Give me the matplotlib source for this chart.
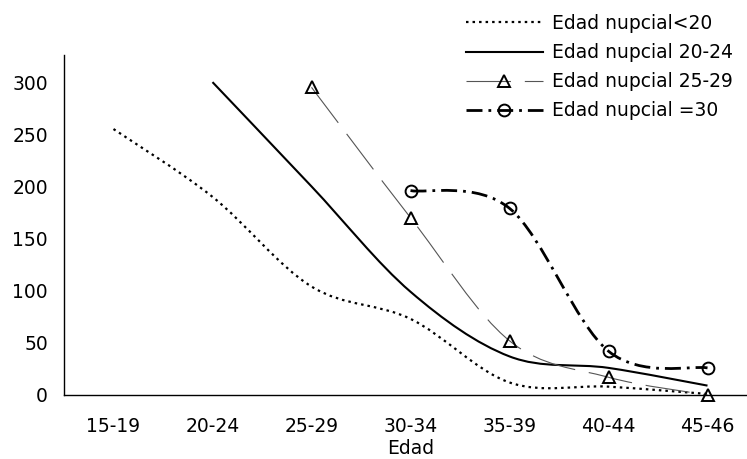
import numpy as np
import matplotlib
matplotlib.use('Agg')
import matplotlib.pyplot as plt
from matplotlib.path import Path
from matplotlib.patches import PathPatch
from matplotlib.lines import Line2D

plt.rcParams['lines.scale_dashes'] = False
plt.rcParams['font.family'] = ['DejaVu Sans']

# datos
edades = ['15-19', '20-24', '25-29', '30-34', '35-39', '40-44', '45-46']
nup_menor20 = [255, 190, 104, 73, 12, 8, 1]
nup_20_24 = [None, 300, 200, 99, 37, 26, 9]
nup_25_29 = [None, None, 295, 170, 52, 17, 0]
nup_30 = [None, None, None, 196, 179, 42, 26]
etiquetas = ['Edad nupcial<20', 'Edad nupcial 20-24',
             'Edad nupcial 25-29', 'Edad nupcial =30']


def suave(valores):
    # curva suavizada tipo Excel (Catmull-Rom como Bezier cubica)
    p = np.array([(i, v) for i, v in enumerate(valores) if v is not None], float)
    n = len(p)
    verts = [p[0]]
    codes = [Path.MOVETO]
    for i in range(n - 1):
        p0 = p[max(i - 1, 0)]
        p3 = p[min(i + 2, n - 1)]
        verts += [p[i] + (p[i + 1] - p0) / 6, p[i + 1] - (p3 - p[i]) / 6, p[i + 1]]
        codes += [Path.CURVE4] * 3
    return Path(verts, codes)


estilos = [
    dict(color='black', lw=1.6, ls=(0, (1.8, 2.9))),
    dict(color='black', lw=1.5, ls='-'),
    dict(color='#555555', lw=0.8, ls=(0, (32, 10))),
    dict(color='black', lw=2.0, ls=(0, (11.5, 4.3, 2, 4.3))),
]
marcas = [None, None,
          dict(marker='^', ms=9, mfc='none', mec='black', mew=1.4),
          dict(marker='o', ms=8.5, mfc='none', mec='black', mew=1.4)]

fig = plt.figure(figsize=(7.47, 4.59), dpi=100)
ax = fig.add_axes([64 / 747, 64 / 459, 693 / 747, 340 / 459])

series = [nup_menor20, nup_20_24, nup_25_29, nup_30]
handles = []
for vals, est, mk in zip(series, estilos, marcas):
    ax.add_patch(PathPatch(suave(vals), fill=False, edgecolor=est['color'],
                           lw=est['lw'], linestyle=est['ls'],
                           capstyle='butt', clip_on=False))
    if mk is not None:
        xs = [i for i, v in enumerate(vals) if v is not None]
        ys = [v for v in vals if v is not None]
        ax.plot(xs, ys, ls='none', clip_on=False, zorder=3, **mk)
        handles.append(Line2D([], [], color=est['color'], lw=est['lw'],
                              ls=est['ls'], **mk))
    else:
        handles.append(Line2D([], [], color=est['color'], lw=est['lw'],
                              ls=est['ls']))

ax.set_xlim(-0.5, 6.5)
ax.set_ylim(0, 326)
ax.set_xticks(range(len(edades)))
ax.set_xticklabels(edades)
ax.set_yticks(range(0, 301, 50))
ax.tick_params(length=0, labelsize=13.5)
ax.tick_params(axis='x', pad=16)
ax.tick_params(axis='y', pad=11.5)
ax.set_xlabel('Edad', fontsize=13.5, labelpad=2)
for s in ['top', 'right']:
    ax.spines[s].set_visible(False)
for s in ['left', 'bottom']:
    ax.spines[s].set_linewidth(1.0)

fig.legend(handles, etiquetas, loc='upper left',
           bbox_to_anchor=(466 / 747, 1 - 14 / 459), frameon=False,
           handlelength=4.1, handletextpad=0.5, labelspacing=0.54,
           borderpad=0, borderaxespad=0, fontsize=13.5, numpoints=1)

fig.savefig('out.png', dpi=100)
